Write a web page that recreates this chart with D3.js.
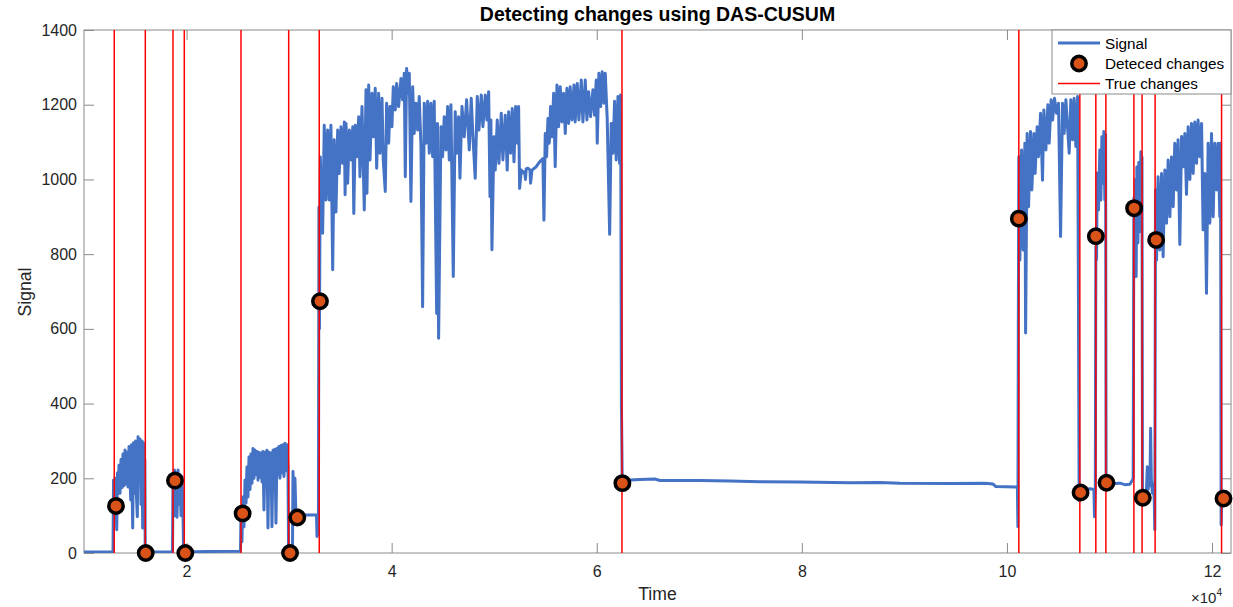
<!DOCTYPE html>
<html><head><meta charset="utf-8">
<script src="https://cdn.jsdelivr.net/npm/d3@7"></script>
<style>
body{margin:0;background:#fff;}
svg{display:block;font-family:"Liberation Sans",Arial,Helvetica,sans-serif;}
</style>
</head><body>
<svg id="chart" width="1233" height="607"></svg>
<script>
// ---------- data ----------
const xDomain = [10000, 121850];
const yDomain = [0, 1400];
const xTicks = [20000, 40000, 60000, 80000, 100000, 120000];
const xTickLabels = ["2", "4", "6", "8", "10", "12"];
const yTicks = [0, 200, 400, 600, 800, 1000, 1200, 1400];
const yTickLabels = ["0", "200", "400", "600", "800", "1000", "1200", "1400"];

const trueChanges = [12950, 15980, 18680, 19780, 25310, 29960, 32940, 62460,
  101160, 107110, 108670, 109650, 112380, 113180, 114450, 120930];

const detectedTime = [13120, 16020, 18870, 19880, 25470, 30090, 30800, 33010, 62500,
  101160, 107180, 108670, 109710, 112400, 113250, 114550, 121120];
const detectedValue = [126, 0, 194, 0, 106, 0, 95, 674, 187,
  895, 162, 848, 188, 923, 148, 838, 146];

const signal = [
[10000,3],[12830,3],[12880,195],[12970,120],[13020,200],[13120,150],[13190,62],[13270,215],[13350,160],[13410,235],[13510,160],[13610,250],[13710,175],[13800,265],[13900,180],[14000,276],[14100,185],[14190,270],[14290,177],[14390,285],[14490,200],[14560,142],[14630,290],[14750,67],[14830,295],[14930,160],[15030,300],[15120,150],[15200,97],[15270,311],[15370,200],[15460,305],[15560,130],[15660,300],[15720,67],[15800,295],[15880,140],[15930,250],[15970,3],
[18630,3],[18680,200],[18740,110],[18820,222],[18900,100],[18970,215],[19070,96],[19170,222],[19260,130],[19360,210],[19460,100],[19560,205],[19650,120],[19710,3],[22000,4],[25210,5],
[25260,5],[25310,110],[25400,30],[25500,150],[25600,70],[25700,195],[25800,134],[25890,230],[25990,150],[26090,257],[26190,170],[26280,265],[26380,187],[26480,280],[26580,200],[26670,276],[26770,210],[26870,272],[26970,195],[27060,270],[27160,203],[27260,268],[27360,190],[27450,272],[27550,115],[27650,270],[27750,200],[27840,275],[27940,67],[28040,270],[28140,190],[28230,268],[28330,70],[28430,275],[28530,200],[28620,278],[28720,80],[28820,280],[28920,210],[29010,285],[29110,200],[29210,288],[29310,215],[29400,290],[29500,205],[29600,294],[29700,220],[29790,290],[29890,230],[29950,3],
[30330,3],[30380,218],[30480,100],[30570,200],[30670,97],[30770,102],[32670,102],[32720,44],[32780,100],[32860,50],[32910,926],[32960,600],[33040,1060],
[33270,856],[33430,1145],[33600,945],[33760,1132],[33920,945],[34080,1145],[34250,758],[34400,1106],[34570,913],[34740,1132],[34890,1016],[35060,1141],[35220,1043],[35390,1154],[35460,959],[35550,1150],[35710,990],[35880,1132],[36040,1052],[36210,1141],[36310,909],[36460,1145],[36600,1061],[36790,1168],[36910,1007],[37110,1195],[37330,918],[37500,1240],[37590,963],[37760,1253],[37890,1052],[38080,1231],[38210,1114],[38400,1244],[38540,1030],[38730,1231],[38860,1070],[39060,1217],[39180,1052],[39380,968],[39510,1204],[39710,1097],[39840,1195],[40030,1141],[40160,1248],[40350,1186],[40490,1257],[40680,1195],[40910,1270],[41070,1213],[41230,1284],[41330,1007],[41460,1297],[41620,1231],[41720,1284],[41880,941],[42050,1248],[42200,1123],[42370,1204],[42540,1132],[42690,1222],[42860,1088],[43020,659],[43180,1204],[43350,1097],[43510,1209],[43670,1070],[43830,1204],[44000,1061],[44150,1209],[44390,641],[44470,1150],[44580,575],[44810,1141],[44970,1061],[45130,1168],[45300,1079],[45460,1195],[45620,1052],[45780,1200],[46010,740],[46200,1181],[46340,1070],[46530,1168],[46660,1003],[46860,1195],[47080,1114],[47310,1213],[47570,1079],[47760,1217],[47930,1114],[48150,1003],[48350,1222],[48510,1132],[48740,1226],[48900,1141],[49130,1226],[49290,1159],[49460,1235],[49590,954],[49680,1159],[49780,812],[49980,1114],[50100,1025],[50300,1159],[50460,1043],[50690,1177],[50850,1052],[51080,1172],[51270,1025],[51410,1181],[51600,1070],[51760,1190],[51930,1047],[52090,1195],[52250,1097],[52380,1195],[52480,976],[52640,1025],[52800,1018],[52970,1021],[53050,1000],[53120,1028],[53290,1030],[53490,1025],[53550,990],[53680,1025],[54100,1034],[54430,1047],[54750,1056],[54850,891],[54980,1123],[55110,1061],[55240,1163],[55370,1097],[55500,1195],[55630,1114],[55800,1231],[55950,1034],[56120,1253],[56280,1141],[56440,1248],[56600,1154],[56770,1231],[56930,1123],[57090,1244],[57260,1150],[57410,1248],[57580,1159],[57780,1253],[57900,1154],[58100,1257],[58260,1159],[58490,1266],[58650,1154],[58880,1266],[59040,1159],[59210,1235],[59400,1168],[59630,1240],[59790,1172],[59950,1266],[60050,1097],[60210,1284],[60380,1195],[60530,1288],[60700,1204],[60830,1284],[61020,1163],[61260,853],[61410,1150],[61580,1070],[61740,1209],[61900,1052],[62070,1222],[62230,1043],[62330,1226],[62410,390],[62480,200],
[62550,195],[62750,195],[64210,197],[65670,198],[66160,194],[70060,194],[72990,193],[75910,191],[79810,190],[84690,188],[87610,189],[89560,187],[94440,186],[97850,187],[98630,185],[98920,178],[100870,177],[101020,178],[101070,70],[101110,600],[101160,1061],
[101260,784],[101430,1079],[101580,811],[101750,1097],[101820,589],[101970,1123],[102110,927],[102300,1128],[102430,972],[102630,1123],[102750,1016],[102950,1141],[103080,1061],[103280,1177],[103470,998],[103600,1186],[103800,1079],[103990,1200],[104120,1097],[104310,1213],[104450,1159],[104640,1217],[104840,1177],[105030,1204],[105230,847],[105420,1204],[105580,1123],[105750,1213],[105910,1141],[106070,1070],[106230,1213],[106400,1106],[106550,1217],[106720,1088],[106890,1222],[106970,700],[107040,140],[107160,165],[107600,170],[108090,172],[108480,170],[108540,97],[108620,170],[108670,820],[108740,785],[108800,1017],[108930,918],[109060,1079],[109160,945],[109260,1114],[109350,990],[109450,1128],[109550,945],[109620,1120],[109670,188],[110040,188],[110520,186],[111010,187],[111500,183],[111990,184],[112230,195],[112310,200],[112380,950],[112440,760],[112520,1000],[112600,740],[112670,1033],[112770,830],[112860,1045],[112960,860],[113060,1074],[113130,880],[113170,1060],[113220,150],[113450,148],[113590,155],[113690,231],[113770,170],[113870,215],[113950,180],[114010,334],[114080,200],[114180,160],[114280,185],[114370,140],[114420,62],[114490,972],[114590,784],[114740,1007],[114910,811],[115080,1016],[115230,793],[115400,1025],[115560,883],[115720,1052],[115890,900],[116050,1060],[116210,927],[116370,1097],[116540,972],[116690,1106],[116860,826],[117030,1115],[117180,1034],[117350,1123],[117510,960],[117670,1141],[117840,1000],[118000,1150],[118160,1016],[118320,1154],[118490,1043],[118640,1159],[118810,1061],[118980,1150],[119130,865],[119300,1016],[119460,695],[119620,1097],[119790,883],[119950,1123],[120110,900],[120270,1097],[120440,972],[120590,1097],[120760,900],[120830,1097],[120890,75],[120960,150],[121250,148],[121830,150]
];

// ---------- layout ----------
const L = 84, R = 1231, T = 30, B = 553;
const axisColor = "#8a8a8a", textColor = "#262626";
const svg = d3.select("#chart");
const x = d3.scaleLinear().domain(xDomain).range([L, R]);
const y = d3.scaleLinear().domain(yDomain).range([B, T]);

svg.append("defs").append("clipPath").attr("id", "clip")
  .append("rect").attr("x", L).attr("y", T).attr("width", R - L).attr("height", B - T);

function styleAxis(g) {
  g.select(".domain").remove();
  g.selectAll(".tick line").attr("stroke", axisColor).attr("stroke-width", 1);
  g.selectAll(".tick text").attr("fill", textColor).attr("font-size", 16)
    .attr("font-family", '"Liberation Sans",Arial,sans-serif');
}
svg.append("g").attr("transform", `translate(0,${B})`)
  .call(d3.axisBottom(x).tickValues(xTicks).tickFormat((d, i) => xTickLabels[i])
    .tickSizeInner(-10).tickSizeOuter(0).tickPadding(13)).call(styleAxis);
svg.append("g").attr("transform", `translate(0,${T})`)
  .call(d3.axisTop(x).tickValues(xTicks).tickFormat("").tickSizeInner(-10).tickSizeOuter(0)).call(styleAxis);
svg.append("g").attr("transform", `translate(${L},0)`)
  .call(d3.axisLeft(y).tickValues(yTicks).tickFormat((d, i) => yTickLabels[i])
    .tickSizeInner(-10).tickSizeOuter(0).tickPadding(7)).call(styleAxis);
svg.append("g").attr("transform", `translate(${R},0)`)
  .call(d3.axisRight(y).tickValues(yTicks).tickFormat("").tickSizeInner(-10).tickSizeOuter(0)).call(styleAxis);

svg.append("rect").attr("x", L).attr("y", T).attr("width", R - L).attr("height", B - T)
  .attr("fill", "none").attr("stroke", axisColor).attr("stroke-width", 1);

// ---------- marks ----------
const plot = svg.append("g").attr("clip-path", "url(#clip)");
plot.append("path").datum(signal)
  .attr("d", d3.line().x(d => x(d[0])).y(d => y(d[1])))
  .attr("fill", "none").attr("stroke", "#4472C4").attr("stroke-width", 3)
  .attr("stroke-linejoin", "round");

const det = detectedTime.map((t, i) => [t, detectedValue[i]]);
svg.append("g").selectAll("circle").data(det).join("circle")
  .attr("cx", d => x(d[0])).attr("cy", d => y(d[1])).attr("r", 7.2)
  .attr("fill", "#D95319").attr("stroke", "#000").attr("stroke-width", 3.5);

plot.append("g").selectAll("line").data(trueChanges).join("line")
  .attr("x1", d => x(d)).attr("x2", d => x(d)).attr("y1", T).attr("y2", B)
  .attr("stroke", "#ff0000").attr("stroke-width", 1.5);

// ---------- text ----------
svg.append("text").attr("x", (L + R) / 2).attr("y", 21).attr("text-anchor", "middle")
  .attr("font-size", 19.5).attr("font-weight", "bold").attr("fill", "#000")
  .text("Detecting changes using DAS-CUSUM");
svg.append("text").attr("x", (L + R) / 2).attr("y", 600).attr("text-anchor", "middle")
  .attr("font-size", 17.6).attr("fill", textColor).text("Time");
svg.append("text").attr("transform", "translate(30.5,292) rotate(-90)").attr("text-anchor", "middle")
  .attr("font-size", 17.6).attr("fill", textColor).text("Signal");
const exp = svg.append("text").attr("x", 1191).attr("y", 603).attr("font-size", 15).attr("fill", textColor);
exp.append("tspan").text("\u00d710");
exp.append("tspan").attr("font-size", 10).attr("dy", -7).text("4");

// ---------- legend ----------
const lg = svg.append("g");
lg.append("rect").attr("x", 1052).attr("y", T).attr("width", R - 1052).attr("height", 64)
  .attr("fill", "#fff").attr("stroke", axisColor).attr("stroke-width", 1);
const legendItems = ["Signal", "Deteced changes", "True changes"];
const legendY = [43, 63.5, 83.5];
lg.append("line").attr("x1", 1058).attr("x2", 1100).attr("y1", legendY[0]).attr("y2", legendY[0])
  .attr("stroke", "#4472C4").attr("stroke-width", 3);
lg.append("circle").attr("cx", 1079).attr("cy", legendY[1]).attr("r", 7.2)
  .attr("fill", "#D95319").attr("stroke", "#000").attr("stroke-width", 3.5);
lg.append("line").attr("x1", 1058).attr("x2", 1100).attr("y1", legendY[2]).attr("y2", legendY[2])
  .attr("stroke", "#ff0000").attr("stroke-width", 1.5);
legendItems.forEach((s, i) => {
  lg.append("text").attr("x", 1105).attr("y", legendY[i] + 5.5).attr("font-size", 15.3)
    .attr("fill", "#000").text(s);
});
</script>
</body></html>
